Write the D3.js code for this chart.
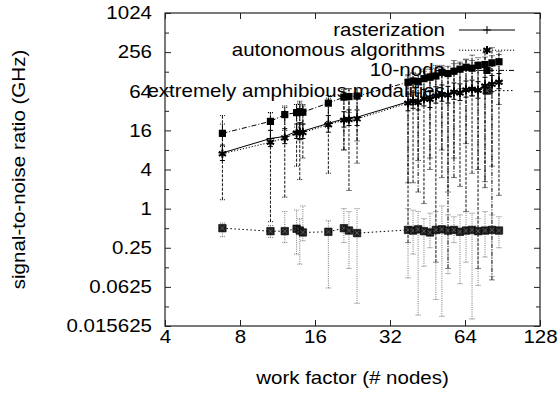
<!DOCTYPE html>
<html>
<head>
<meta charset="utf-8">
<script src="https://cdn.jsdelivr.net/npm/d3@7"></script>
<style>
  body { margin: 0; background: #fff; }
  svg { display: block; }
  text { font-family: "Liberation Sans", Arial, sans-serif; fill: #000; }
</style>
</head>
<body>
<svg id="chart" width="560" height="393"></svg>
<script>
// x positions (work factor, # nodes), shared by all series
const xs = [6.8, 10.6, 12.1, 13.5, 13.9, 14.3, 18.1, 20.9, 21.9, 23.6,
  37.8, 39.6, 41.5, 43.8, 46.3, 48.9, 51.7, 54.7, 57.8, 61.1, 64.6, 68.3, 72.2, 77.0, 82.1, 87.6];

const raster   = [7.2, 12.0, 12.9, 15.5, 15.8, 15.6, 20.5, 24, 25, 25.5,
  44, 47, 45, 52, 50, 57, 60, 58, 65, 63, 70, 72, 68, 80, 85, 92];
const rasterLo = [5.5, 9, 10, 12, 11.5, 12, 15, 18, 19, 19,
  32, 35, 33, 38, 36, 42, 45, 42, 48, 46, 52, 54, 50, 60, 63, 70];
const rasterHi = [9.5, 16, 17, 20, 21, 20, 27, 31, 33, 33,
  58, 62, 60, 68, 66, 75, 80, 76, 86, 83, 92, 95, 90, 105, 112, 120];

const auton    = [7.0, 10.5, 12.2, 14.5, 15, 14.8, 19.5, 23, 23.5, 24,
  42, 45, 43, 49, 48, 54, 57, 56, 62, 60, 67, 69, 66, 77, 82, 88];
const autonLo  = [1.37, 0.63, 1.5, 4.5, 2.8, 6, 3.5, 8, 1.9, 5,
  0.3, 2.5, 5.5, 1.2, 4, 0.15, 3, 1.8, 6, 2.2, 0.9, 3.5, 0.12, 2.6, 4.5, 1.6];
const autonHi  = [27, 30, 36, 40, 45, 38, 50, 62, 70, 58,
  110, 125, 100, 140, 120, 160, 150, 130, 190, 170, 200, 230, 180, 250, 300, 260];

const tenNode   = [14.4, 22, 28, 30, 31, 30.5, 42, 52, 53, 54,
  88, 92, 90, 100, 105, 110, 125, 120, 130, 140, 150, 145, 160, 165, 175, 182];
const tenNodeLo = [9, 12, 16, 18, 14, 20, 22, 8, 30, 11,
  2.5, 40, 1.8, 50, 6, 60, 8, 0.12, 3, 70, 10, 55, 4, 2.1, 0.08, 40];
const tenNodeHi = [20, 30, 38, 40, 42, 40, 55, 68, 70, 72,
  115, 120, 118, 130, 140, 145, 160, 155, 170, 180, 195, 190, 210, 215, 225, 235];

const amph   = [0.5, 0.45, 0.45, 0.49, 0.46, 0.43, 0.44, 0.5, 0.46, 0.42,
  0.47, 0.46, 0.48, 0.45, 0.43, 0.47, 0.48, 0.46, 0.47, 0.44, 0.46, 0.47, 0.45, 0.46, 0.47, 0.46];
const amphLo = [0.37, 0.36, 0.3, 0.2, 0.14, 0.32, 0.06, 0.3, 0.12, 0.035,
  0.086, 0.2, 0.023, 0.13, 0.25, 0.04, 0.022, 0.1, 0.3, 0.07, 0.15, 0.02, 0.066, 0.18, 0.09, 0.25];
const amphHi = [0.6, 0.55, 0.9, 0.95, 0.7, 1.1, 0.65, 1.0, 0.9, 1.0,
  1.0, 0.95, 0.9, 0.7, 0.85, 0.9, 1.1, 0.8, 0.75, 0.8, 0.9, 0.85, 0.7, 0.9, 0.8, 0.75];

const xTicks  = [4, 8, 16, 32, 64, 128];
const xLabels = ['4', '8', '16', '32', '64', '128'];
const yTicks  = [0.015625, 0.0625, 0.25, 1, 4, 16, 64, 256, 1024];
const yLabels = ['0.015625', '0.0625', '0.25', '1', '4', '16', '64', '256', '1024'];
const yMinor  = [0.03125, 0.125, 0.5, 2, 8, 32, 128, 512];

const seriesNames = ['rasterization', 'autonomous algorithms', '10-node', 'extremely amphibious modalities'];

const series = [
  { name: seriesNames[0], v: raster,  lo: rasterLo,  hi: rasterHi,  dash: null,      barDash: null,      barColor: '#000', mark: 'plus' },
  { name: seriesNames[1], v: auton,   lo: autonLo,   hi: autonHi,   dash: '1.2,1.8', barDash: '3,1.5',   barColor: '#111', mark: 'star' },
  { name: seriesNames[2], v: tenNode, lo: tenNodeLo, hi: tenNodeHi, dash: '5,2,1,2', barDash: '4,1.5,1,1.5', barColor: '#000', mark: 'square' },
  { name: seriesNames[3], v: amph,    lo: amphLo,    hi: amphHi,    dash: '1.5,2.5', barDash: '1,1.2',   barColor: '#777', mark: 'square2' },
];

const L = 165, R = 540, T = 13, B = 326;
const SX = 1.14; // glyphs in the reference are slightly wide
const svg = d3.select('#chart');

const x = d3.scaleLog().base(2).domain([4, 128]).range([L, R]);
const y = d3.scaleLog().base(2).domain([0.015625, 1024]).range([B, T]);

function styleAxis(g) {
  g.select('.domain').remove();
  g.selectAll('line').attr('stroke', '#222');
  g.selectAll('text').attr('font-size', '18px').attr('font-family', '"Liberation Sans", Arial, sans-serif')
    .attr('fill', '#000')
    .attr('transform', `scale(${SX},1)`);
}

// axes (ticks inward, mirrored)
svg.append('g').attr('transform', `translate(0,${B})`)
  .call(d3.axisBottom(x).tickValues(xTicks).tickFormat((d, i) => xLabels[i]).tickSizeInner(-6).tickSizeOuter(0).tickPadding(4))
  .call(styleAxis);
svg.append('g').attr('transform', `translate(0,${T})`)
  .call(d3.axisTop(x).tickValues(xTicks).tickFormat('').tickSizeInner(-6).tickSizeOuter(0))
  .call(styleAxis);
svg.append('g').attr('transform', `translate(${L},0)`)
  .call(d3.axisLeft(y).tickValues(yTicks).tickFormat((d, i) => yLabels[i]).tickSizeInner(-6).tickSizeOuter(0).tickPadding(11.4))
  .call(styleAxis);
svg.append('g').attr('transform', `translate(${L},0)`)
  .call(d3.axisLeft(y).tickValues(yMinor).tickFormat('').tickSizeInner(-4).tickSizeOuter(0))
  .call(styleAxis);
svg.append('g').attr('transform', `translate(${R},0)`)
  .call(d3.axisRight(y).tickValues(yTicks).tickFormat('').tickSizeInner(-6).tickSizeOuter(0))
  .call(styleAxis);
svg.append('g').attr('transform', `translate(${R},0)`)
  .call(d3.axisRight(y).tickValues(yMinor).tickFormat('').tickSizeInner(-4).tickSizeOuter(0))
  .call(styleAxis);

svg.append('rect').attr('x', L).attr('y', T).attr('width', R - L).attr('height', B - T)
  .attr('fill', 'none').attr('stroke', '#222').attr('stroke-width', 1.2);

// axis titles
svg.append('text').text('work factor (# nodes)')
  .attr('transform', `translate(${(L + R) / 2},384) scale(${SX},1)`)
  .attr('text-anchor', 'middle').attr('font-size', '18px');
svg.append('text').text('signal-to-noise ratio (GHz)')
  .attr('transform', `translate(25,${(T + B) / 2}) rotate(-90) scale(${SX},1)`)
  .attr('text-anchor', 'middle').attr('font-size', '18px');

function drawMark(g, kind, cx, cy) {
  if (kind === 'plus') {
    g.append('path').attr('d', d3.symbol(d3.symbolPlus, 22)())
      .attr('transform', `translate(${cx},${cy})`).attr('fill', 'none').attr('stroke', '#000').attr('stroke-width', 1);
  } else if (kind === 'star') {
    g.append('path').attr('d', d3.symbol(d3.symbolAsterisk, 48)())
      .attr('transform', `translate(${cx},${cy})`).attr('fill', 'none').attr('stroke', '#000').attr('stroke-width', 2);
  } else if (kind === 'square') {
    g.append('path').attr('d', d3.symbol(d3.symbolSquare, 52)())
      .attr('transform', `translate(${cx},${cy})`).attr('fill', '#000');
  } else {
    g.append('path').attr('d', d3.symbol(d3.symbolSquare, 56)())
      .attr('transform', `translate(${cx},${cy})`).attr('fill', '#1e1e1e').attr('stroke', '#000').attr('stroke-width', 0.6);
    g.append('path').attr('d', d3.symbol(d3.symbolTimes, 14)())
      .attr('transform', `translate(${cx},${cy})`).attr('fill', 'none').attr('stroke', '#666').attr('stroke-width', 0.8);
  }
}

// legend (drawn first, data drawn over it)
const legend = svg.append('g');
series.forEach((s, i) => {
  const cy = 30 + i * 20.2;
  legend.append('text').text(s.name)
    .attr('transform', `translate(445,${cy + 6}) scale(${SX},1)`)
    .attr('text-anchor', 'end').attr('font-size', '18px');
  legend.append('line').attr('x1', 459).attr('x2', 515).attr('y1', cy).attr('y2', cy)
    .attr('stroke', '#000').attr('stroke-width', 1).attr('stroke-dasharray', s.dash);
  drawMark(legend, s.mark, 487, cy);
});

// data
const plot = svg.append('g');
const line = d3.line().x(d => x(d[0])).y(d => y(d[1]));
series.forEach(s => {
  const g = plot.append('g');
  const pts = xs.map((xv, i) => [xv, s.v[i], s.lo[i], s.hi[i]]);
  pts.forEach(p => {
    const cx = x(p[0]);
    g.append('line').attr('x1', cx).attr('x2', cx).attr('y1', y(p[2])).attr('y2', y(p[3]))
      .attr('stroke', s.barColor).attr('stroke-width', 1).attr('stroke-dasharray', s.barDash);
    [p[2], p[3]].forEach(e => {
      g.append('line').attr('x1', cx - 2.5).attr('x2', cx + 2.5).attr('y1', y(e)).attr('y2', y(e))
        .attr('stroke', s.barColor).attr('stroke-width', 1).attr('stroke-dasharray', s.barDash ? '1,1' : null);
    });
  });
  g.append('path').datum(pts).attr('d', line)
    .attr('fill', 'none').attr('stroke', '#000').attr('stroke-width', 1).attr('stroke-dasharray', s.dash);
  pts.forEach(p => drawMark(g, s.mark, x(p[0]), y(p[1])));
});
</script>
</body>
</html>
